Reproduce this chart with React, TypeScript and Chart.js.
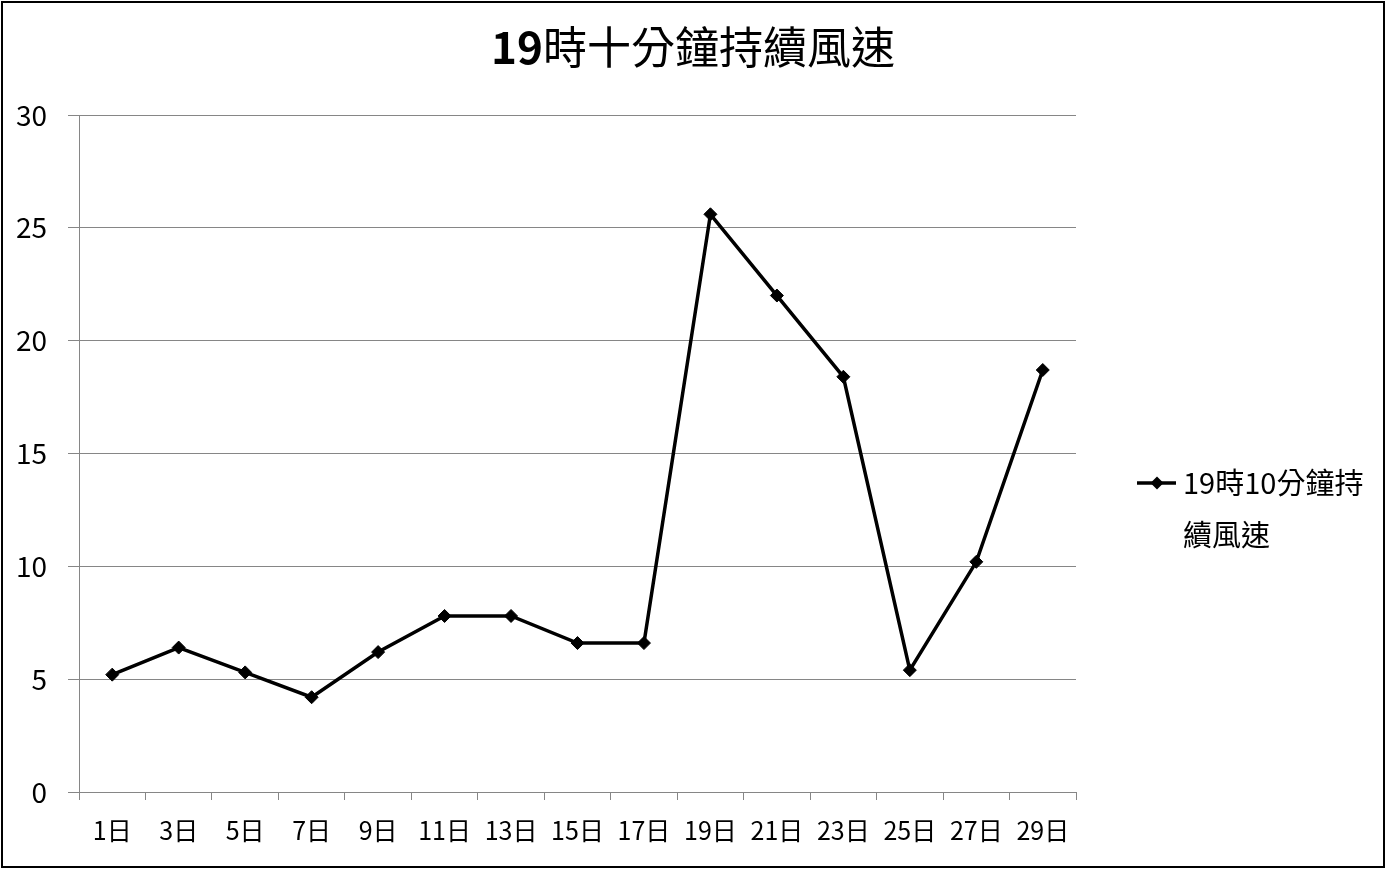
import React, { useEffect, useRef } from "react";
import { Chart, registerables } from "chart.js";

Chart.register(...registerables);

const categories = ["1日", "3日", "5日", "7日", "9日", "11日", "13日", "15日", "17日", "19日", "21日", "23日", "25日", "27日", "29日"];
const windSpeed = [5.2, 6.4, 5.3, 4.2, 6.2, 7.8, 7.8, 6.6, 6.6, 25.6, 22, 18.4, 5.4, 10.2, 18.7];
const titleBold = "19";
const titleRest = "時十分鐘持續風速";
const legendLines = ["19時10分鐘持", "續風速"];

const FONT = "'Noto Sans CJK TC', 'Noto Sans', sans-serif";

export default function App() {
  const ref = useRef<HTMLCanvasElement | null>(null);

  useEffect(() => {
    document.body.style.margin = "0";
    const canvas = ref.current!;
    const decor = {
      id: "decor",
      afterDraw(chart: any) {
        const ctx = chart.ctx as CanvasRenderingContext2D;
        ctx.save();
        // Title
        ctx.textBaseline = "middle";
        ctx.fillStyle = "#000";
        ctx.font = `bold 44px ${FONT}`;
        const w1 = ctx.measureText(titleBold).width;
        ctx.font = `normal 44px ${FONT}`;
        const w2 = ctx.measureText(titleRest).width;
        const x = 693 - (w1 + w2) / 2;
        ctx.font = `bold 44px ${FONT}`;
        ctx.fillText(titleBold, x, 47);
        ctx.font = `normal 44px ${FONT}`;
        ctx.fillText(titleRest, x + w1, 47);
        // Legend
        ctx.strokeStyle = "#000";
        ctx.lineWidth = 3.5;
        ctx.beginPath();
        ctx.moveTo(1137, 483);
        ctx.lineTo(1176, 483);
        ctx.stroke();
        ctx.beginPath();
        const cx = 1157, cy = 483, r = 6.5;
        ctx.moveTo(cx, cy - r);
        ctx.lineTo(cx + r, cy);
        ctx.lineTo(cx, cy + r);
        ctx.lineTo(cx - r, cy);
        ctx.closePath();
        ctx.fill();
        ctx.font = `normal 29px ${FONT}`;
        ctx.textAlign = "left";
        ctx.fillText(legendLines[0], 1183, 483);
        ctx.fillText(legendLines[1], 1183, 535);
        ctx.restore();
      },
    };

    const chart = new Chart(canvas, {
      type: "line",
      data: {
        labels: categories,
        datasets: [
          {
            label: legendLines.join(""),
            data: windSpeed,
            borderColor: "#000",
            backgroundColor: "#000",
            borderWidth: 3.5,
            pointStyle: "rectRot",
            pointRadius: 6.5,
            pointBorderWidth: 1,
            pointBackgroundColor: "#000",
            pointBorderColor: "#000",
            tension: 0,
          },
        ],
      },
      options: {
        responsive: false,
        animation: false,
        devicePixelRatio: 1,
        layout: { padding: { left: 0, top: 115, right: 310, bottom: 0 } },
        plugins: {
          legend: { display: false },
          title: { display: false },
          tooltip: { enabled: false },
        },
        scales: {
          x: {
            type: "category",
            offset: true,
            grid: {
              offset: true,
              drawOnChartArea: false,
              drawTicks: true,
              tickLength: 8,
              color: "#868686",
              lineWidth: 1,
            },
            border: { color: "#868686", width: 1 },
            ticks: {
              color: "#000",
              font: { family: FONT, size: 25 },
              padding: 15,
              maxRotation: 0,
              autoSkip: false,
            },
            afterFit(scale: any) {
              scale.height = 77;
            },
          },
          y: {
            min: 0,
            max: 30,
            ticks: {
              stepSize: 5,
              color: "#000",
              font: { family: FONT, size: 28 },
              padding: 21,
            },
            grid: {
              color: "#868686",
              lineWidth: 1,
              tickLength: 11,
            },
            border: { color: "#868686", width: 1 },
            afterFit(scale: any) {
              scale.width = 79;
            },
          },
        },
      },
      plugins: [decor],
    });
    return () => chart.destroy();
  }, []);

  return (
    <div style={{ position: "relative", width: 1386, height: 869, background: "#fff" }}>
      <canvas ref={ref} width={1386} height={869} style={{ position: "absolute", left: 0, top: 0 }} />
      <div
        style={{
          position: "absolute",
          left: 1,
          top: 1,
          width: 1384,
          height: 867,
          border: "2px solid #000",
          boxSizing: "border-box",
          pointerEvents: "none",
        }}
      />
    </div>
  );
}
